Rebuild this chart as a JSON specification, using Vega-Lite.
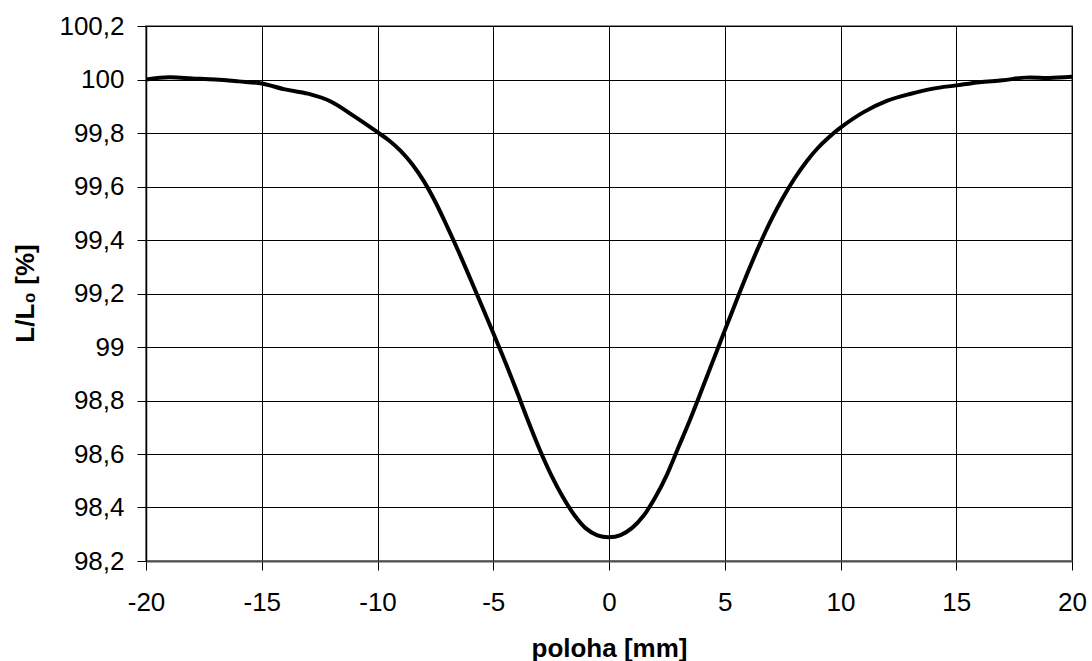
{
  "$schema": "https://vega.github.io/schema/vega-lite/v6.json",
  "width": 926,
  "height": 535,
  "autosize": "none",
  "padding": {"left": 146, "top": 26, "right": 20, "bottom": 100},
  "background": "white",
  "config": {
    "view": {"stroke": "#8c8c8c", "strokeWidth": 2},
    "font": "Liberation Sans"
  },
  "data": {
    "values": [
      {"x": -20, "y": 100.0},
      {"x": -19, "y": 100.008},
      {"x": -18, "y": 100.004},
      {"x": -17, "y": 100.0},
      {"x": -16, "y": 99.993},
      {"x": -15, "y": 99.985},
      {"x": -14, "y": 99.963},
      {"x": -13, "y": 99.947},
      {"x": -12, "y": 99.917},
      {"x": -11, "y": 99.862},
      {"x": -10, "y": 99.803},
      {"x": -9.5, "y": 99.772},
      {"x": -9, "y": 99.733},
      {"x": -8.5, "y": 99.683},
      {"x": -8, "y": 99.62},
      {"x": -7.5, "y": 99.542},
      {"x": -7, "y": 99.452},
      {"x": -6.5, "y": 99.357},
      {"x": -6, "y": 99.257},
      {"x": -5.5, "y": 99.155},
      {"x": -5, "y": 99.052},
      {"x": -4.5, "y": 98.948},
      {"x": -4, "y": 98.838},
      {"x": -3.5, "y": 98.725},
      {"x": -3, "y": 98.618},
      {"x": -2.5, "y": 98.522},
      {"x": -2, "y": 98.44},
      {"x": -1.5, "y": 98.372},
      {"x": -1, "y": 98.322},
      {"x": -0.5, "y": 98.296},
      {"x": 0, "y": 98.289},
      {"x": 0.5, "y": 98.297},
      {"x": 1, "y": 98.324},
      {"x": 1.5, "y": 98.37},
      {"x": 2, "y": 98.438},
      {"x": 2.5, "y": 98.522},
      {"x": 3, "y": 98.625},
      {"x": 3.5, "y": 98.728},
      {"x": 4, "y": 98.838},
      {"x": 4.5, "y": 98.95},
      {"x": 5, "y": 99.062},
      {"x": 5.5, "y": 99.172},
      {"x": 6, "y": 99.28},
      {"x": 6.5, "y": 99.382},
      {"x": 7, "y": 99.474},
      {"x": 7.5, "y": 99.556},
      {"x": 8, "y": 99.628},
      {"x": 8.5, "y": 99.69},
      {"x": 9, "y": 99.742},
      {"x": 9.5, "y": 99.784},
      {"x": 10, "y": 99.82},
      {"x": 11, "y": 99.878},
      {"x": 12, "y": 99.92},
      {"x": 13, "y": 99.946},
      {"x": 14, "y": 99.966},
      {"x": 15, "y": 99.978},
      {"x": 16, "y": 99.99},
      {"x": 17, "y": 99.997},
      {"x": 18, "y": 100.007},
      {"x": 19, "y": 100.006},
      {"x": 20, "y": 100.01}
    ]
  },
  "mark": {"type": "line", "color": "#000000", "strokeWidth": 4, "interpolate": "catmull-rom", "clip": true},
  "encoding": {
    "x": {
      "field": "x",
      "type": "quantitative",
      "scale": {"domain": [-20, 20], "nice": false, "zero": false},
      "axis": {
        "values": [-20, -15, -10, -5, 0, 5, 10, 15, 20],
        "labelExpr": "toString(datum.value)",
        "title": "poloha [mm]",
        "titleFont": "Liberation Sans",
        "titleFontSize": 26,
        "titleFontWeight": "bold",
        "titleColor": "#000000",
        "titleBaseline": "alphabetic",
        "titleY": 95,
        "labelFont": "Liberation Sans",
        "labelFontSize": 26,
        "labelColor": "#000000",
        "labelPadding": 19,
        "labelFlush": false,
        "labelOverlap": false,
        "tickSize": 9,
        "tickColor": "#000000",
        "domainColor": "#505050",
        "domainWidth": 2,
        "grid": true,
        "gridColor": "#000000",
        "gridWidth": 1,
        "gridOpacity": 1
      }
    },
    "y": {
      "field": "y",
      "type": "quantitative",
      "scale": {"domain": [98.2, 100.2], "nice": false, "zero": false},
      "axis": {
        "values": [98.2, 98.4, 98.6, 98.8, 99.0, 99.2, 99.4, 99.6, 99.8, 100.0, 100.2],
        "labelExpr": "replace(toString(round(datum.value*10)/10), '.', ',')",
        "title": "L/L₀ [%]",
        "titleFont": "Liberation Sans",
        "titleFontSize": 26,
        "titleFontWeight": "bold",
        "titleColor": "#000000",
        "titleAngle": -90,
        "titleAlign": "center",
        "titleBaseline": "alphabetic",
        "titleX": -113,
        "titleY": 267,
        "labelFont": "Liberation Sans",
        "labelFontSize": 26,
        "labelColor": "#000000",
        "labelPadding": 13,
        "labelFlush": false,
        "labelOverlap": false,
        "tickSize": 9,
        "tickColor": "#000000",
        "domainColor": "#000000",
        "domainWidth": 1.5,
        "grid": true,
        "gridColor": "#000000",
        "gridWidth": 1,
        "gridOpacity": 1
      }
    }
  }
}
